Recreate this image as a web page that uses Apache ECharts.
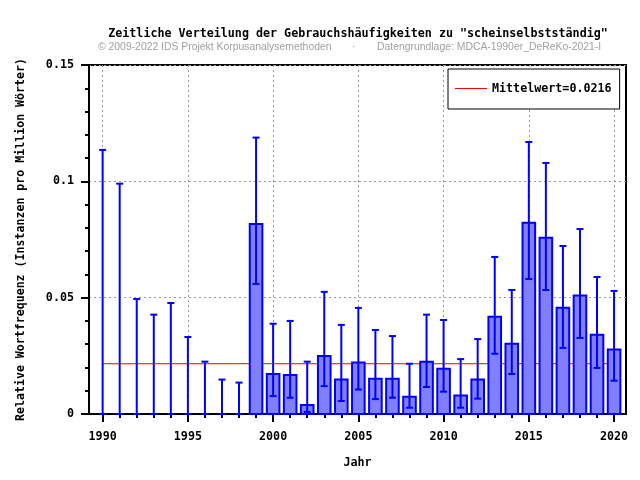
<!DOCTYPE html>
<html>
<head>
<meta charset="utf-8">
<script src="https://cdn.jsdelivr.net/npm/echarts@6/dist/echarts.min.js"></script>
<style>html,body{margin:0;padding:0;background:#fff}#c{width:640px;height:480px}</style>
</head>
<body>
<div id="c"></div>
<script>
const years = [1990,1991,1992,1993,1994,1995,1996,1997,1998,1999,2000,2001,2002,2003,2004,2005,2006,2007,2008,2009,2010,2011,2012,2013,2014,2015,2016,2017,2018,2019,2020];
const values = [0,0,0,0,0,0,0,0,0,0.0817,0.0172,0.0168,0.0039,0.0249,0.0148,0.0221,0.0152,0.0152,0.0074,0.0225,0.0195,0.0079,0.0148,0.0418,0.0302,0.0822,0.0758,0.0457,0.0509,0.0341,0.0277];
const lower = [0,0,0,0,0,0,0,0,0,0.0559,0.0077,0.0070,0.0009,0.0120,0.0056,0.0105,0.0064,0.0070,0.0027,0.0116,0.0096,0.0027,0.0066,0.0259,0.0172,0.0580,0.0533,0.0284,0.0327,0.0198,0.0143];
const upper = [0.1135,0.0990,0.0494,0.0427,0.0477,0.0331,0.0225,0.0148,0.0135,0.1188,0.0388,0.0400,0.0225,0.0525,0.0383,0.0456,0.0361,0.0335,0.0216,0.0427,0.0404,0.0236,0.0322,0.0675,0.0533,0.1169,0.1079,0.0722,0.0795,0.0589,0.0529];
const meanValue = 0.0216;
const majorYears = [1990,1995,2000,2005,2010,2015,2020];

const titleText = 'Zeitliche Verteilung der Gebrauchshäufigkeiten zu "scheinselbstständig"';
const subLeft = '© 2009-2022 IDS Projekt Korpusanalysemethoden';
const subRight = 'Datengrundlage: MDCA-1990er_DeReKo-2021-I';
const yName = 'Relative Wortfrequenz (Instanzen pro Million Wörter)';
const xName = 'Jahr';
const legendName = 'Mittelwert=' + meanValue;

const MONO = '"DejaVu Sans Mono", "Liberation Mono", monospace';
const SANS = '"Liberation Sans", Arial, sans-serif';

const chart = echarts.init(document.getElementById('c'), null, {renderer: 'canvas'});

const barData = years.map((y, i) => [y, values[i]]);
const errData = years.map((y, i) => [y, lower[i], upper[i]]);

const option = {
  animation: false,
  backgroundColor: '#fff',
  title: [
    {text: titleText, left: 353, top: 23, textAlign: 'center',
     textStyle: {fontFamily: MONO, fontWeight: 'bold', fontSize: 11.7, color: '#000'}},
    {text: subLeft, left: 93, top: 37,
     textStyle: {fontFamily: SANS, fontWeight: 'normal', fontSize: 10.4, color: '#a0a0a0'}},
    {text: '·', left: 347, top: 37,
     textStyle: {fontFamily: SANS, fontWeight: 'normal', fontSize: 10.4, color: '#a0a0a0'}},
    {text: subRight, left: 372, top: 37,
     textStyle: {fontFamily: SANS, fontWeight: 'normal', fontSize: 10.4, color: '#a0a0a0'}}
  ],
  legend: {
    left: 448, top: 69,
    padding: [12.5, 8, 13.5, 7],
    itemWidth: 32, itemHeight: 1, itemGap: 0,
    icon: 'rect',
    borderColor: '#000', borderWidth: 1,
    backgroundColor: '#fff',
    data: [legendName],
    textStyle: {fontFamily: MONO, fontWeight: 'bold', fontSize: 11.7, color: '#000', lineHeight: 14}
  },
  grid: {
    left: 89, right: 14, top: 65, bottom: 66,
    show: true, borderColor: '#000', borderWidth: 2, backgroundColor: 'transparent'
  },
  xAxis: [
    {
      type: 'value', min: 1989.2, max: 2020.7, position: 'bottom',
      name: xName, nameLocation: 'middle', nameGap: 43,
      nameTextStyle: {fontFamily: MONO, fontWeight: 'bold', fontSize: 11.7, color: '#000'},
      axisLine: {show: true, onZero: false, lineStyle: {color: '#000', width: 2}},
      axisTick: {show: true, customValues: majorYears, length: 8, lineStyle: {color: '#000', width: 2}},
      axisLabel: {show: true, customValues: majorYears, margin: 17,
                  fontFamily: MONO, fontWeight: 'bold', fontSize: 11.7, color: '#000',
                  formatter: v => String(Math.round(v))},
      splitLine: {show: true, lineStyle: {color: '#999', type: [2, 3], width: 1}}
    },
    {
      type: 'value', min: 1989.2, max: 2020.7, position: 'bottom',
      axisLine: {show: false},
      axisTick: {show: true, customValues: years, length: 4, lineStyle: {color: '#000', width: 2}},
      axisLabel: {show: false},
      splitLine: {show: false}
    }
  ],
  yAxis: {
    type: 'value', min: 0, max: 0.15, interval: 0.05,
    name: yName, nameLocation: 'middle', nameGap: 62, nameRotate: 90,
    nameTextStyle: {fontFamily: MONO, fontWeight: 'bold', fontSize: 11.6, color: '#000'},
    axisLine: {show: true, lineStyle: {color: '#000', width: 2}},
    axisTick: {show: true, length: 8, lineStyle: {color: '#000', width: 2}},
    minorTick: {show: true, splitNumber: 5, length: 4, lineStyle: {color: '#000', width: 2}},
    axisLabel: {margin: 15, fontFamily: MONO, fontWeight: 'bold', fontSize: 11.7, color: '#000'},
    splitLine: {show: true, lineStyle: {color: '#999', type: [2, 3], width: 1}}
  },
  series: [
    {
      name: legendName, type: 'line', xAxisIndex: 0, z: 1,
      data: [[years[0], meanValue], [years[years.length - 1], meanValue]],
      symbol: 'none', showSymbol: false,
      lineStyle: {color: '#ff0000', width: 1}, itemStyle: {color: '#ff0000'}
    },
    {
      name: 'bars', type: 'custom', xAxisIndex: 0, z: 2,
      data: barData,
      renderItem: function (params, api) {
        const x = api.value(0), v = api.value(1);
        if (!v) return null;
        const p1 = api.coord([x - 0.37, v]);
        const p2 = api.coord([x + 0.37, 0]);
        return {
          type: 'rect',
          shape: {x: p1[0], y: p1[1], width: p2[0] - p1[0], height: p2[1] - p1[1]},
          style: {fill: '#8080ff', stroke: '#0000ff', lineWidth: 2}
        };
      }
    },
    {
      name: 'errors', type: 'custom', xAxisIndex: 0, z: 3,
      data: errData,
      renderItem: function (params, api) {
        const x = api.value(0);
        const lo = api.coord([x, api.value(1)]);
        const hi = api.coord([x, api.value(2)]);
        const w = 3.5;
        const st = {stroke: '#0000ff', lineWidth: 2, fill: null};
        return {
          type: 'group',
          children: [
            {type: 'line', shape: {x1: lo[0], y1: lo[1], x2: hi[0], y2: hi[1]}, style: st},
            {type: 'line', shape: {x1: hi[0] - w, y1: hi[1], x2: hi[0] + w, y2: hi[1]}, style: st},
            {type: 'line', shape: {x1: lo[0] - w, y1: lo[1], x2: lo[0] + w, y2: lo[1]}, style: st}
          ]
        };
      }
    }
  ]
};
chart.setOption(option);
</script>
</body>
</html>
